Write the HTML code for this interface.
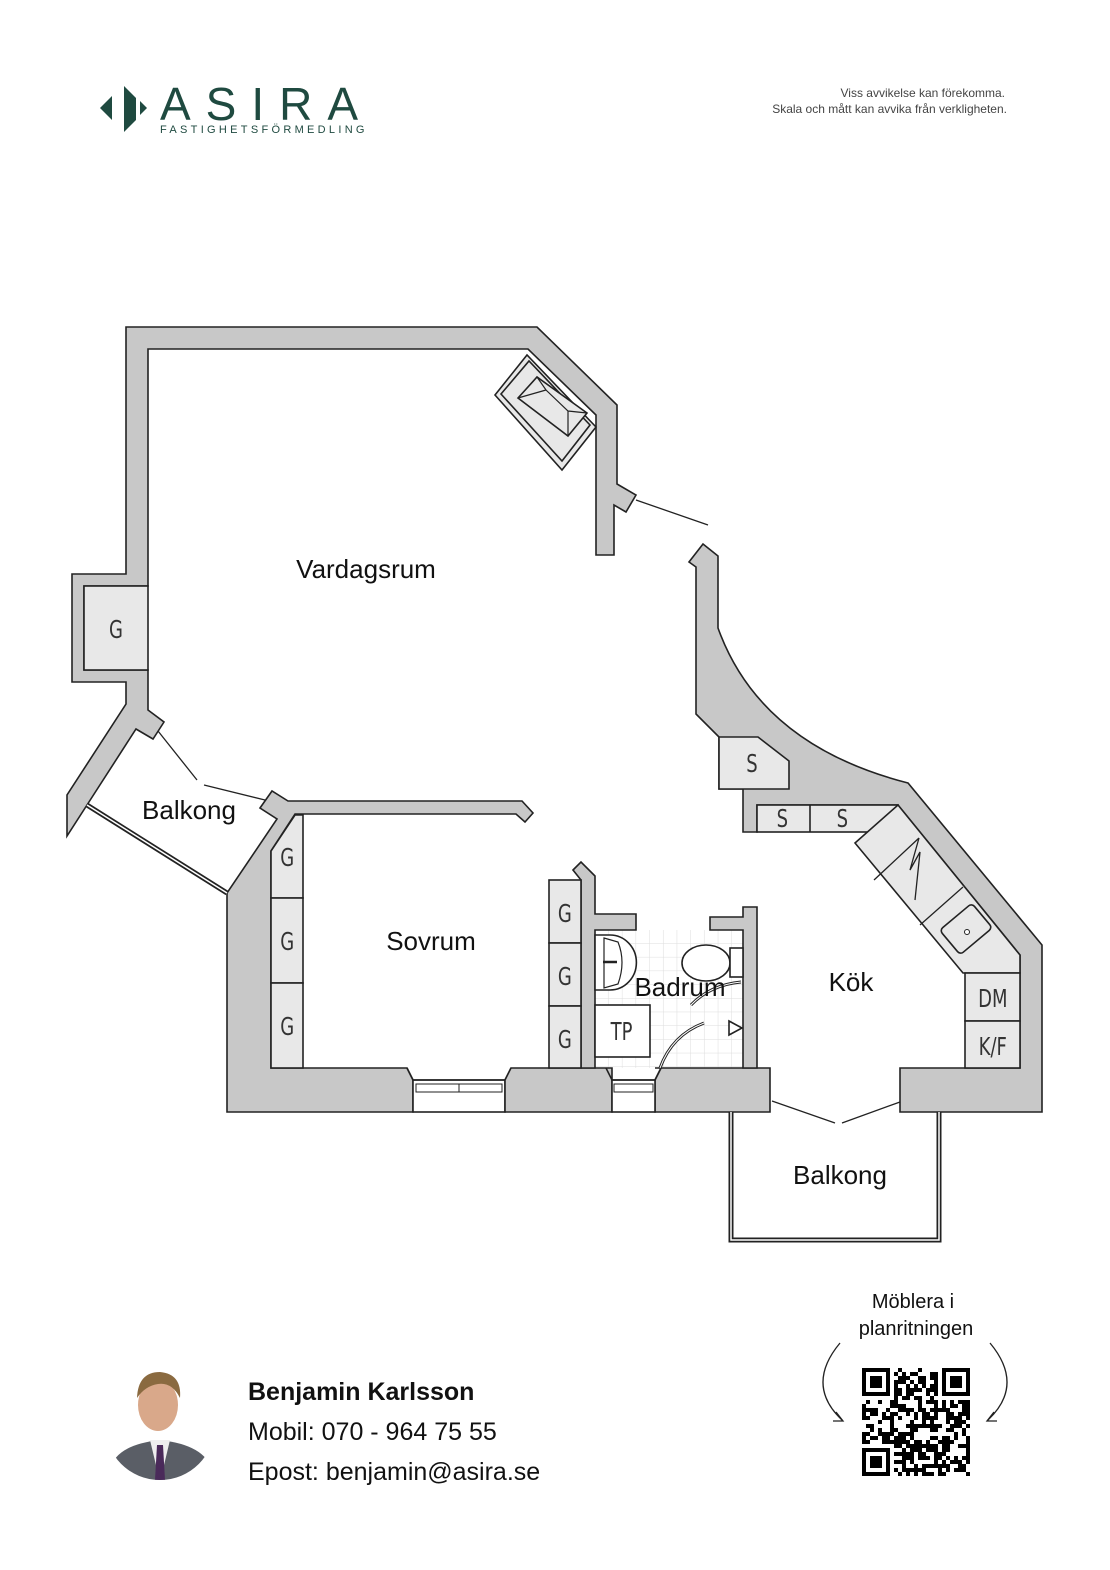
<!DOCTYPE html>
<html><head><meta charset="utf-8"><style>
html,body{margin:0;padding:0;background:#fff}
body{width:1110px;height:1570px;position:relative;overflow:hidden;font-family:"Liberation Sans",sans-serif}
</style></head><body>
<svg width="1110" height="1570" viewBox="0 0 1110 1570" xmlns="http://www.w3.org/2000/svg" style="position:absolute;left:0;top:0">
<defs>
<pattern id="tile" width="13.7" height="13.7" patternUnits="userSpaceOnUse" x="595" y="930">
<rect width="13.7" height="13.7" fill="#fff"/><path d="M13.7 0V13.7H0" fill="none" stroke="#ddd" stroke-width="1"/>
</pattern>
</defs>
<!-- logo -->
<g fill="#1f4a40">
<polygon points="112,96 100,108 112,120"/>
<polygon points="124,86 136,98 136,120 124,132"/>
<polygon points="140,101 147,108 140,115"/>
<text x="160" y="120" font-size="46" letter-spacing="15" font-family="Liberation Sans">ASIRA</text>
<text x="160" y="133" font-size="11" letter-spacing="3.3">FASTIGHETSFÖRMEDLING</text>
</g>
<g fill="#444" font-size="12" text-anchor="end">
<text x="1005" y="97">Viss avvikelse kan förekomma.</text>
<text x="1007" y="113">Skala och mått kan avvika från verkligheten.</text>
</g>

<g stroke="#222" stroke-width="1.6" stroke-linejoin="miter">
<rect x="595" y="930" width="148" height="138" fill="url(#tile)" stroke="none"/>
<polygon fill="#c8c8c8" points="72,682 72,574 126,574 126,327 537,327 617,405 617,484 636,495 626,512 614,505 614,555 596,555 596,415 528,349 148,349 148,586 84,586 84,670 148,670 148,710 164,722 153,739 136,729 87,805 67,836 67,795 126,704 126,682"/>
<rect x="84" y="586" width="64" height="84" fill="#e8e8e8"/>
<polygon fill="#e8e8e8" points="495,395 527,355 596,427 562,470"/>
<polygon fill="none" points="501,394 529,361 590,425 562,461"/>
<polygon fill="#e8e8e8" points="518,398 537,377 587,413 568,436"/>
<path d="M537,377 L546,390 L568,411 L587,413 M546,390 L518,398 M568,411 L568,436" fill="none" stroke-width="1.2"/>
<polygon fill="#c8c8c8" points="260,808 272,791 288,801 522,801 533,813 525,822 516,814 295,814 271,851 271,1068 407,1068 413,1080 413,1112 227,1112 227,893 277,819"/>
<g fill="#e8e8e8"><polygon points="271,851 295,815 303,815 303,898 271,898"/><rect x="271" y="898" width="32" height="85"/><rect x="271" y="983" width="32" height="85"/></g>
<rect x="413" y="1080" width="92" height="32" fill="#fff"/>
<path d="M407,1068 L413,1080 L505,1080 L511,1068" fill="none"/>
<rect x="416" y="1084" width="86" height="8" fill="#fff" stroke-width="1"/>
<line x1="459" y1="1084" x2="459" y2="1092" stroke-width="1"/>
<polygon fill="#c8c8c8" points="511,1068 612,1068 612,1112 505,1112 505,1080"/>
<polygon fill="#c8c8c8" points="573,870 581,862 595,876 595,914 636,914 636,930 595,930 595,1068 581,1068 581,880"/>
<g fill="#e8e8e8"><rect x="549" y="880" width="32" height="63"/><rect x="549" y="943" width="32" height="63"/><rect x="549" y="1006" width="32" height="62"/></g>
<polygon fill="#c8c8c8" points="655,1068 770,1068 770,1112 655,1112 655,1080 661,1068"/>
<rect x="612" y="1080" width="43" height="32" fill="#fff"/>
<path d="M606,1068 L612,1080 L655,1080 L661,1068" fill="none"/>
<rect x="614" y="1084" width="39" height="8" fill="#fff" stroke-width="1"/>
<polygon fill="#c8c8c8" points="710,917 743,917 743,907 757,907 757,1068 743,1068 743,930 710,930"/>
<rect x="595" y="1005" width="55" height="52" fill="#fff"/>
<path d="M595,935 L610,935 A24,25 0 0 1 610,990 L595,990 Z" fill="#fff"/>
<path d="M604,938 L618,942 Q626,962 618,984 L604,988 Z" fill="#fff" stroke-width="1.2"/>
<line x1="603" y1="962" x2="617" y2="962" stroke-width="2.5"/>
<ellipse cx="706" cy="963" rx="24" ry="18" fill="#fff"/>
<rect x="730" y="948" width="13" height="29" fill="#fff"/>
<path d="M691,1005 Q710,985 741,982 M660,1068 Q672,1035 704,1023" fill="none" stroke-width="3"/>
<path d="M691,1005 Q710,985 741,982 M660,1068 Q672,1035 704,1023" fill="none" stroke="#fff" stroke-width="1"/>
<polygon points="729,1021 742,1028 729,1035" fill="#fff"/>
<!-- kitchen wall -->
<path fill="#c8c8c8" d="M703,544 L718,556 L718,628 Q760,745 908,783 L1042,945 L1042,1112 L900,1112 L900,1068 L1020,1068 L1020,955 L898,805 L757,805 L757,832 L743,832 L743,789 L719,789 L719,737 L696,714 L696,567 L689,562 Z"/>
<polygon fill="#e8e8e8" points="719,737 758,737 789,761 789,789 719,789"/>
<rect x="757" y="805" width="141" height="27" fill="#e8e8e8"/>
<line x1="810" y1="805" x2="810" y2="832"/>
<polygon fill="#e8e8e8" points="855,843 898,805 1020,955 1020,973 963,973 855,843"/>
<path d="M874,880 L919,838 M920,925 L963,887 M919,838 L910,870 L920,852 L915,900" fill="none" stroke-width="1.3"/>
<g transform="rotate(-40 966 929)"><rect x="945" y="913" width="42" height="32" rx="4" fill="#e8e8e8"/></g>
<circle cx="967" cy="932" r="2.5" fill="#fff" stroke-width="1"/>
<rect x="965" y="973" width="55" height="48" fill="#e8e8e8"/>
<rect x="965" y="1021" width="55" height="47" fill="#e8e8e8"/>
<line x1="636" y1="500" x2="708" y2="525" stroke-width="1.3"/>
<line x1="158" y1="731" x2="197" y2="780" stroke-width="1.3"/>
<line x1="204" y1="785" x2="265" y2="800" stroke-width="1.3"/>
<path d="M87,805 L227,893" stroke-width="5"/><path d="M87,805 L227,893" stroke="#fff" stroke-width="1.5"/>
<line x1="772" y1="1101" x2="835" y2="1123" stroke-width="1.3"/>
<line x1="842" y1="1123" x2="900" y2="1102" stroke-width="1.3"/>
<path d="M731,1112 V1240 H939 V1112" fill="none" stroke-width="5"/>
<path d="M731,1112 V1240 H939 V1112" fill="none" stroke="#fff" stroke-width="1.5"/>
</g>
<g font-size="26" fill="#111" text-anchor="middle">
<text x="366" y="578">Vardagsrum</text>
<text x="189" y="819">Balkong</text>
<text x="431" y="950">Sovrum</text>
<text x="680" y="996">Badrum</text>
<text x="851" y="991">Kök</text>
<text x="840" y="1184">Balkong</text>
</g>
<g font-family="DejaVu Sans Condensed, Liberation Sans Narrow, sans-serif" font-size="25" fill="#333" text-anchor="middle" transform="scale(0.8 1)">
<text x="145" y="638">G</text>
<text x="359" y="866">G</text><text x="359" y="950">G</text><text x="359" y="1035">G</text>
<text x="706" y="922">G</text><text x="706" y="985">G</text><text x="706" y="1048">G</text>
<text x="777" y="1040">TP</text>
<text x="940" y="772">S</text><text x="978" y="827">S</text><text x="1053" y="827">S</text>
<text x="1241" y="1007">DM</text><text x="1241" y="1055">K/F</text>
</g>
<clipPath id="pc"><circle cx="160" cy="1425" r="55"/></clipPath>
<g clip-path="url(#pc)">
<path d="M110,1470 Q115,1445 160,1440 Q205,1445 212,1470 L212,1490 L110,1490Z" fill="#5a5e66"/>
<path d="M150,1440 L160,1482 L170,1440Z" fill="#eee"/>
<path d="M157,1445 L163,1445 L165,1480 L155,1480Z" fill="#4a2a5a"/>
<ellipse cx="158" cy="1405" rx="20" ry="26" fill="#d9a88a"/>
<path d="M137,1398 Q138,1372 160,1372 Q182,1374 180,1398 Q172,1382 158,1384 Q145,1386 137,1398Z" fill="#8a6a40"/>
</g>
<g font-size="25" fill="#111">
<text x="248" y="1400" font-weight="bold">Benjamin Karlsson</text>
<text x="248" y="1440">Mobil: 070 - 964 75 55</text>
<text x="248" y="1480">Epost: benjamin@asira.se</text>
</g>
<g font-size="20" fill="#111" text-anchor="middle">
<text x="913" y="1308">Möblera i</text>
<text x="916" y="1335">planritningen</text>
</g>
<path d="M840,1343 Q805,1385 842,1420 M836,1412 L843,1421 L833,1421" fill="none" stroke="#222" stroke-width="1.3"/>
<path d="M990,1343 Q1025,1385 988,1420 M994,1412 L987,1421 L997,1421" fill="none" stroke="#222" stroke-width="1.3"/>
<g id="qr"></g>
</svg>
<script>
(function(){
var g=document.getElementById('qr'),ns='http://www.w3.org/2000/svg',x0=862,y0=1368,n=27,c=4;
var s=12345;function r(){s=(s*1103515245+12345)%2147483648;return s/2147483648;}
function R(x,y,w,h,f){var e=document.createElementNS(ns,'rect');e.setAttribute('x',x);e.setAttribute('y',y);e.setAttribute('width',w);e.setAttribute('height',h);e.setAttribute('fill',f);g.appendChild(e);}
function fin(i,j){return (i<8&&j<8)||(i<8&&j>=n-8)||(i>=n-8&&j<8);}
for(var i=0;i<n;i++)for(var j=0;j<n;j++){if(fin(i,j))continue;if(r()<0.55)R(x0+j*c,y0+i*c,c,c,'#000');}
[[0,0],[0,n-7],[n-7,0]].forEach(function(p){var x=x0+p[1]*c,y=y0+p[0]*c;R(x,y,28,28,'#000');R(x+4,y+4,20,20,'#fff');R(x+8,y+8,12,12,'#000');});
})();
</script>
</body></html>
